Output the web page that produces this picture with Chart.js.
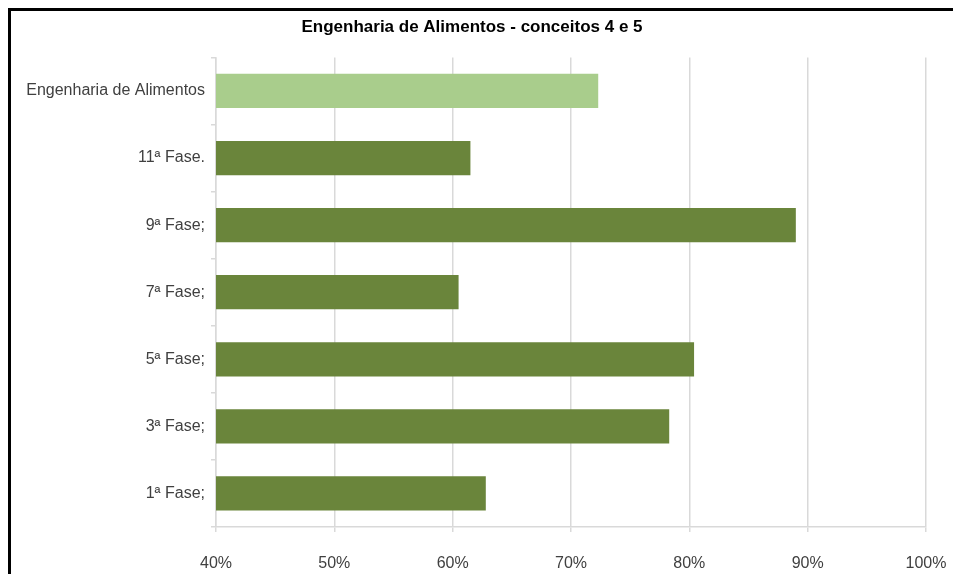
<!DOCTYPE html>
<html>
<head>
<meta charset="utf-8">
<script src="https://cdn.jsdelivr.net/npm/chart.js@4"></script>
<style>
  html, body { margin: 0; padding: 0; background: #fff; }
  #wrap { width: 953px; height: 574px; }
</style>
</head>
<body>
<div id="wrap"><canvas id="myChart" width="953" height="574"></canvas></div>
<script>
// categorias de cima para baixo, como no gráfico original
const categorias = ['Engenharia de Alimentos', '11ª Fase.', '9ª Fase;', '7ª Fase;', '5ª Fase;', '3ª Fase;', '1ª Fase;'];
// percentual de conceitos 4 e 5
const valores = [72.3, 61.5, 89.0, 60.5, 80.4, 78.3, 62.8];
const cores = ['#a9cd8c', '#6a853b', '#6a853b', '#6a853b', '#6a853b', '#6a853b', '#6a853b'];
const ticksX = [40, 50, 60, 70, 80, 90, 100];

const fonte = "'Liberation Sans Narrow', 'Arial Narrow', 'Liberation Sans', Arial, sans-serif";
const cinzaGrade = '#d9d9d9';

// moldura preta no topo e à esquerda
const moldura = {
    id: 'moldura',
    beforeDraw(chart) {
        const c = chart.ctx;
        c.save();
        c.fillStyle = '#fff';
        c.fillRect(0, 0, chart.width, chart.height);
        c.restore();
    },
    afterDraw(chart) {
        const c = chart.ctx;
        c.save();
        c.fillStyle = '#000';
        c.fillRect(8, 8, chart.width - 8, 3);
        c.fillRect(8, 8, 3, chart.height - 8);
        c.restore();
    }
};

const ctx = document.getElementById('myChart');

new Chart(ctx, {
    type: 'bar',
    data: {
        labels: categorias,
        datasets: [{
            data: valores,
            backgroundColor: cores,
            borderWidth: 0,
            categoryPercentage: 1,
            barPercentage: 0.51
        }]
    },
    options: {
        indexAxis: 'y',
        responsive: false,
        animation: false,
        layout: { padding: { left: 18, right: 27, top: 0, bottom: 0 } },
        plugins: {
            legend: { display: false },
            tooltip: { enabled: false },
            title: {
                display: true,
                text: 'Engenharia de Alimentos - conceitos 4 e 5',
                color: '#000',
                font: { family: fonte, size: 17, weight: 'bold' },
                padding: { top: 17, bottom: 20 }
            }
        },
        scales: {
            x: {
                min: 40,
                max: 100,
                afterBuildTicks(scale) {
                    scale.ticks = ticksX.map(v => ({ value: v }));
                },
                afterFit(scale) {
                    scale.height = 47;
                    scale.paddingLeft = 0;
                    scale.paddingRight = 0;
                },
                ticks: {
                    color: '#404040',
                    font: { family: fonte, size: 16 },
                    padding: 22,
                    callback: v => v + '%'
                },
                grid: {
                    color: cinzaGrade,
                    lineWidth: 1.5,
                    drawTicks: true,
                    tickLength: 5
                },
                border: { color: cinzaGrade, width: 1.5 }
            },
            y: {
                afterFit(scale) {
                    scale.width = 198;
                    scale.paddingTop = 0;
                    scale.paddingBottom = 0;
                },
                ticks: {
                    color: '#404040',
                    font: { family: fonte, size: 16 },
                    padding: 6
                },
                grid: {
                    offset: true,
                    drawOnChartArea: false,
                    drawTicks: true,
                    tickLength: 5,
                    color: cinzaGrade,
                    lineWidth: 1.5
                },
                border: { color: cinzaGrade, width: 1.5 }
            }
        }
    },
    plugins: [moldura]
});
</script>
</body>
</html>
